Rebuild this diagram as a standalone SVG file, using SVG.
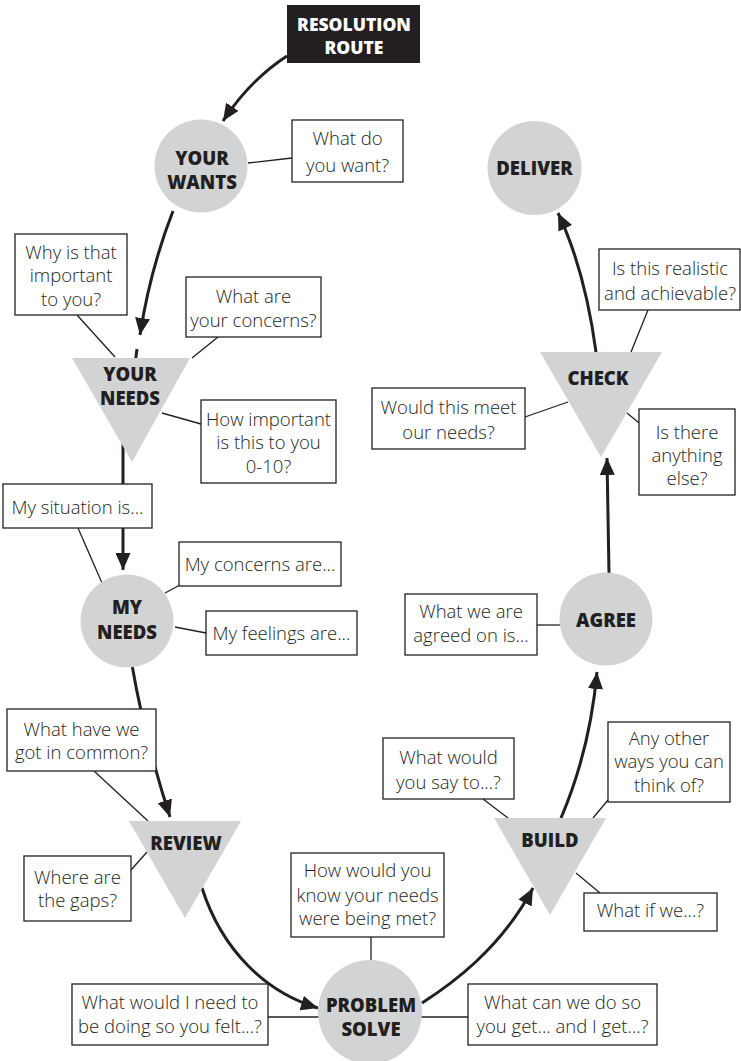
<svg xmlns="http://www.w3.org/2000/svg" width="741" height="1061" viewBox="0 0 741 1061">
<defs>
<style>
.bg{fill:#ffffff}
.box{fill:#ffffff;stroke:#231f20;stroke-width:1.3}
.node{fill:#d1d3d4;stroke:none}
.q{font-family:"Open Sans","Noto Sans","Liberation Sans",sans-serif;font-size:18.5px;font-weight:300;fill:#231f20;text-anchor:middle}
.lbl{font-family:"Open Sans","Noto Sans","Liberation Sans",sans-serif;font-size:18.5px;font-weight:800;fill:#231f20;text-anchor:middle}
.start{fill:#231f20}
.stxt{font-family:"Open Sans","Noto Sans","Liberation Sans",sans-serif;font-size:17.5px;font-weight:800;fill:#ffffff;text-anchor:middle}
.flow{fill:none;stroke:#231f20;stroke-width:3}
.link{fill:none;stroke:#231f20;stroke-width:1.3}
</style>
<marker id="ah" markerUnits="userSpaceOnUse" markerWidth="18" markerHeight="15" refX="17" refY="7.5" orient="auto">
<path d="M0,0 L17,7.5 L0,15 Z" fill="#231f20"/>
</marker>
</defs>
<rect class="bg" x="0" y="0" width="741" height="1061"/>

<g id="connectors">
<path class="flow" d="M287,56 Q250,80 223,121" marker-end="url(#ah)"/>
<path class="flow" d="M173,211 Q150,270 140,335" marker-end="url(#ah)"/>
<path class="flow" d="M137,349 L135,364"/>
<path class="flow" d="M123,440 L123,570" marker-end="url(#ah)"/>
<path class="flow" d="M132,665 Q145,740 170,817" marker-end="url(#ah)"/>
<path class="flow" d="M202,888 C222,950 265,992 318,1008" marker-end="url(#ah)"/>
<path class="flow" d="M422,1003 C450,985 500,950 533,888" marker-end="url(#ah)"/>
<path class="flow" d="M561,818 Q590,750 597,672" marker-end="url(#ah)"/>
<path class="flow" d="M609,573 L607,458" marker-end="url(#ah)"/>
<path class="flow" d="M596,352 Q585,270 558,213" marker-end="url(#ah)"/>

<path class="link" d="M248,163 L292,158"/>
<path class="link" d="M77,315 L115,357"/>
<path class="link" d="M218,337 L192,358"/>
<path class="link" d="M162,413 L201,424"/>
<path class="link" d="M78,528 L102,583"/>
<path class="link" d="M165,593 L180,585"/>
<path class="link" d="M175,627 L206,633"/>
<path class="link" d="M94,771 L148,821"/>
<path class="link" d="M131,870 L147,852"/>
<path class="link" d="M371,937 L371,960"/>
<path class="link" d="M268,1017 L320,1017"/>
<path class="link" d="M420,1017 L468,1017"/>
<path class="link" d="M483,799 L508,818"/>
<path class="link" d="M608,800 L593,818"/>
<path class="link" d="M576,873 L600,893"/>
<path class="link" d="M537,625 L560,625"/>
<path class="link" d="M525,417 L568,402"/>
<path class="link" d="M648,310 L631,352"/>
<path class="link" d="M627,413 L639,423"/>
</g>

<g id="start">
<rect class="start" x="287" y="5" width="133" height="58"/>
<text class="stxt" x="354" y="31"><tspan x="354" y="31">RESOLUTION</tspan><tspan x="354" y="54">ROUTE</tspan></text>
</g>

<g id="your-wants">
<circle class="node" cx="201" cy="166" r="46.5"/>
<text class="lbl" x="202" y="165"><tspan x="202" y="165">YOUR</tspan><tspan x="202" y="188.5">WANTS</tspan></text>
</g>

<g id="your-needs">
<polygon class="node" points="72,358 190,358 132,462"/>
<text class="lbl" x="130" y="381"><tspan x="130" y="381">YOUR</tspan><tspan x="130" y="405">NEEDS</tspan></text>
</g>

<g id="my-needs">
<circle class="node" cx="127" cy="621" r="46.5"/>
<text class="lbl" x="127" y="614"><tspan x="127" y="614">MY</tspan><tspan x="127" y="639">NEEDS</tspan></text>
</g>

<g id="review">
<polygon class="node" points="129,821 241,821 185,918"/>
<text class="lbl" x="186" y="850">REVIEW</text>
</g>

<g id="problem-solve">
<circle class="node" cx="370" cy="1012" r="52"/>
<text class="lbl" x="371" y="1011.5"><tspan x="371" y="1011.5">PROBLEM</tspan><tspan x="371" y="1035.5">SOLVE</tspan></text>
</g>

<g id="build">
<polygon class="node" points="494,818 606,818 550,915"/>
<text class="lbl" x="550" y="847">BUILD</text>
</g>

<g id="agree">
<circle class="node" cx="606" cy="619" r="46.5"/>
<text class="lbl" x="606" y="627">AGREE</text>
</g>

<g id="check">
<polygon class="node" points="540,352 662,352 601,457"/>
<text class="lbl" x="598" y="385">CHECK</text>
</g>

<g id="deliver">
<circle class="node" cx="534.5" cy="168" r="47"/>
<text class="lbl" x="534.5" y="175">DELIVER</text>
</g>

<g id="q-what-do-you-want">
<rect class="box" x="292" y="120" width="111" height="62"/>
<text class="q" x="347.5" y="145"><tspan x="347.5" y="145">What do</tspan><tspan x="347.5" y="172">you want?</tspan></text>
</g>

<g id="q-why-important">
<rect class="box" x="15" y="234" width="112" height="81"/>
<text class="q" x="71" y="259"><tspan x="71" y="259">Why is that</tspan><tspan x="71" y="282">important</tspan><tspan x="71" y="306">to you?</tspan></text>
</g>

<g id="q-your-concerns">
<rect class="box" x="186" y="277" width="135" height="60"/>
<text class="q" x="253.5" y="303"><tspan x="253.5" y="303">What are</tspan><tspan x="253.5" y="327">your concerns?</tspan></text>
</g>

<g id="q-how-important">
<rect class="box" x="201" y="400" width="135" height="83"/>
<text class="q" x="268.5" y="426"><tspan x="268.5" y="426">How important</tspan><tspan x="268.5" y="449">is this to you</tspan><tspan x="268.5" y="473">0-10?</tspan></text>
</g>

<g id="q-my-situation">
<rect class="box" x="3" y="484" width="149" height="44"/>
<text class="q" x="77.5" y="513.5">My situation is...</text>
</g>

<g id="q-my-concerns">
<rect class="box" x="179" y="542" width="162" height="44"/>
<text class="q" x="260" y="570.5">My concerns are...</text>
</g>

<g id="q-my-feelings">
<rect class="box" x="206" y="611" width="151" height="44"/>
<text class="q" x="281.5" y="639.5">My feelings are...</text>
</g>

<g id="q-common">
<rect class="box" x="7" y="709" width="149" height="62"/>
<text class="q" x="81.5" y="736"><tspan x="81.5" y="736">What have we</tspan><tspan x="81.5" y="759">got in common?</tspan></text>
</g>

<g id="q-gaps">
<rect class="box" x="24" y="856" width="107" height="65"/>
<text class="q" x="77.5" y="884"><tspan x="77.5" y="884">Where are</tspan><tspan x="77.5" y="907">the gaps?</tspan></text>
</g>

<g id="q-how-would-you-know">
<rect class="box" x="291" y="853" width="153" height="84"/>
<text class="q" x="367.5" y="877"><tspan x="367.5" y="877">How would you</tspan><tspan x="367.5" y="902">know your needs</tspan><tspan x="367.5" y="925">were being met?</tspan></text>
</g>

<g id="q-what-would-i-need">
<rect class="box" x="72" y="984" width="196" height="61"/>
<text class="q" x="170" y="1009"><tspan x="170" y="1009">What would I need to</tspan><tspan x="170" y="1033">be doing so you felt...?</tspan></text>
</g>

<g id="q-what-can-we-do">
<rect class="box" x="468" y="984" width="189" height="61"/>
<text class="q" x="562.5" y="1009"><tspan x="562.5" y="1009">What can we do so</tspan><tspan x="562.5" y="1033">you get... and I get...?</tspan></text>
</g>

<g id="q-what-would-you-say">
<rect class="box" x="383" y="738" width="131" height="61"/>
<text class="q" x="448.5" y="764"><tspan x="448.5" y="764">What would</tspan><tspan x="448.5" y="789">you say to...?</tspan></text>
</g>

<g id="q-any-other-ways">
<rect class="box" x="608" y="722" width="122" height="80"/>
<text class="q" x="669" y="744.5"><tspan x="669" y="744.5">Any other</tspan><tspan x="669" y="768">ways you can</tspan><tspan x="669" y="791.5">think of?</tspan></text>
</g>

<g id="q-what-if-we">
<rect class="box" x="584" y="893" width="133" height="38"/>
<text class="q" x="650.5" y="917">What if we...?</text>
</g>

<g id="q-agreed-on">
<rect class="box" x="405" y="594" width="132" height="61"/>
<text class="q" x="471" y="618"><tspan x="471" y="618">What we are</tspan><tspan x="471" y="642">agreed on is...</tspan></text>
</g>

<g id="q-meet-needs">
<rect class="box" x="372" y="388" width="153" height="61"/>
<text class="q" x="448.5" y="414"><tspan x="448.5" y="414">Would this meet</tspan><tspan x="448.5" y="439">our needs?</tspan></text>
</g>

<g id="q-realistic">
<rect class="box" x="599" y="249" width="141" height="61"/>
<text class="q" x="670" y="275"><tspan x="670" y="275">Is this realistic</tspan><tspan x="670" y="300">and achievable?</tspan></text>
</g>

<g id="q-anything-else">
<rect class="box" x="639" y="409" width="96" height="86"/>
<text class="q" x="687" y="439"><tspan x="687" y="439">Is there</tspan><tspan x="687" y="462">anything</tspan><tspan x="687" y="485">else?</tspan></text>
</g>
</svg>
